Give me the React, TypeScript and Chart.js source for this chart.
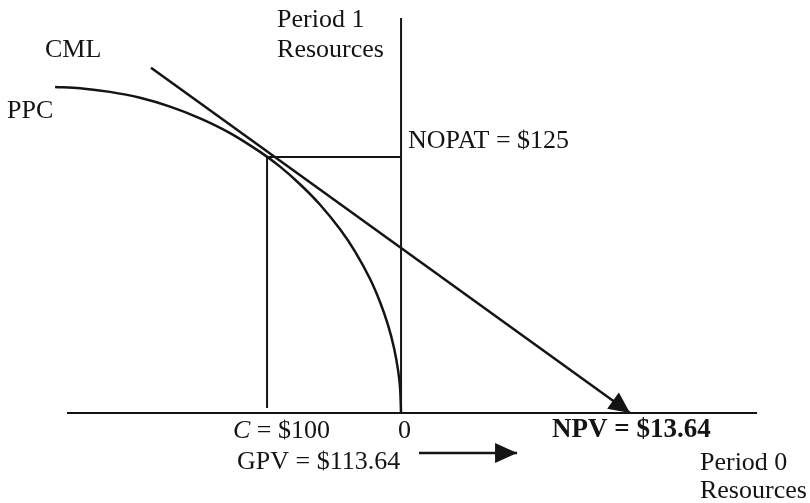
import React, { useEffect, useRef } from "react";
import { Chart, registerables } from "chart.js";

Chart.register(...registerables);

// ---- Data (diagram units: x = Period 0 resources, y = Period 1 resources) ----
const horizontalAxisX = [-249.3, 265.7];
const verticalAxisTop = 192.9;
const costC = -100; // C = $100 invested today
const nopat = 125; // NOPAT = $125 next period
const costLineBottom = 2.4;

const cmlX = [-186.6, 170.9];
const cmlY = [168.6, 0];

const ppcX = [-258.2, -239.6, -217.2, -194.8, -172.4, -150.0, -127.6, -105.2, -90.3, -75.4, -60.4, -45.5, -34.3, -23.1, -15.7, -9.7, -5.2, -2.2, -0.7, 0];
const ppcY = [159.2, 158.6, 156.8, 153.9, 149.6, 143.9, 136.7, 127.5, 120.3, 111.7, 101.7, 89.7, 78.8, 65.4, 54.2, 42.9, 31.6, 20.8, 12.0, 0];

const gpvArrowX = [13.4, 86.6];
const gpvArrowLevel = -19.5;

// ---- Labels (text parts) ----
type Part = { text: string; italic?: boolean; bold?: boolean };
const labelTexts: Part[][] = [
  [{ text: "Period 1" }],
  [{ text: "Resources" }],
  [{ text: "CML" }],
  [{ text: "PPC" }],
  [{ text: "NOPAT = $125" }],
  [{ text: "C", italic: true }, { text: " = $100" }],
  [{ text: "0" }],
  [{ text: "GPV = $113.64" }],
  [{ text: "NPV = $13.64", bold: true }],
  [{ text: "Period 0" }],
  [{ text: "Resources" }],
];
// anchors (left / baseline) in diagram units
const labelAnchorX = [-92.5, -92.5, -265.7, -294.0, 5.2, -125.4, -2.2, -122.4, 112.7, 223.1, 223.1];
const labelAnchorY = [188.5, 173.8, 173.8, 144.0, 129.4, -12.2, -12.2, -27.3, -11.7, -27.8, -41.5];

const INK = "#141414";
const FONT_FAMILY = '"Liberation Serif", "Times New Roman", serif';
const FONT_SIZE = 26;
const BOLD_FONT_SIZE = 27;

const arrowPlugin = {
  id: "arrowHeads",
  afterDatasetsDraw(chart: any) {
    const ctx = chart.ctx;
    chart.data.datasets.forEach((ds: any, i: number) => {
      if (!ds.arrowHead) return;
      const meta = chart.getDatasetMeta(i);
      const pts = meta.data;
      if (pts.length < 2) return;
      const tip = pts[pts.length - 1];
      const prev = pts[pts.length - 2];
      const dx = tip.x - prev.x;
      const dy = tip.y - prev.y;
      const len = Math.hypot(dx, dy);
      const ux = dx / len;
      const uy = dy / len;
      const L = ds.arrowLength || 21;
      const W = ds.arrowHalfWidth || 10;
      const bx = tip.x - ux * L;
      const by = tip.y - uy * L;
      ctx.save();
      ctx.fillStyle = ds.borderColor;
      ctx.beginPath();
      ctx.moveTo(tip.x, tip.y);
      ctx.lineTo(bx - uy * W, by + ux * W);
      ctx.lineTo(bx + uy * W, by - ux * W);
      ctx.closePath();
      ctx.fill();
      ctx.restore();
    });
  },
};

const labelPlugin = {
  id: "diagramLabels",
  afterDraw(chart: any) {
    const ctx = chart.ctx;
    const xs = chart.scales.x;
    const ys = chart.scales.y;
    ctx.save();
    ctx.fillStyle = INK;
    ctx.textBaseline = "alphabetic";
    ctx.textAlign = "left";
    labelTexts.forEach((parts, i) => {
      let px = xs.getPixelForValue(labelAnchorX[i]);
      const py = ys.getPixelForValue(labelAnchorY[i]);
      parts.forEach((p) => {
        const size = p.bold ? BOLD_FONT_SIZE : FONT_SIZE;
        ctx.font = `${p.italic ? "italic " : ""}${p.bold ? "bold " : ""}${size}px ${FONT_FAMILY}`;
        ctx.fillText(p.text, px, py);
        px += ctx.measureText(p.text).width;
      });
    });
    ctx.restore();
  },
};

export default function App() {
  const canvasRef = useRef<HTMLCanvasElement | null>(null);

  useEffect(() => {
    document.body.style.margin = "0";
    const canvas = canvasRef.current;
    if (!canvas) return;

    const line = (data: { x: number; y: number }[], width: number, extra: any = {}) => ({
      data,
      showLine: true,
      borderColor: INK,
      backgroundColor: INK,
      borderWidth: width,
      pointRadius: 0,
      pointHoverRadius: 0,
      fill: false,
      tension: 0,
      borderJoinStyle: "miter",
      ...extra,
    });

    const chart = new Chart(canvas, {
      type: "scatter",
      data: {
        datasets: [
          line(horizontalAxisX.map((x) => ({ x, y: 0 })), 2),
          line([{ x: 0, y: 0 }, { x: 0, y: verticalAxisTop }], 2),
          line(
            [
              { x: costC, y: costLineBottom },
              { x: costC, y: nopat },
              { x: 0, y: nopat },
            ],
            2
          ),
          line(ppcX.map((x, i) => ({ x, y: ppcY[i] })), 2.5, { tension: 0.3 }),
          line(cmlX.map((x, i) => ({ x, y: cmlY[i] })), 2.5, { arrowHead: true, arrowLength: 21, arrowHalfWidth: 10 }),
          line(gpvArrowX.map((x) => ({ x, y: gpvArrowLevel })), 2.5, { arrowHead: true, arrowLength: 22, arrowHalfWidth: 10 }),
        ],
      },
      options: {
        responsive: false,
        animation: false,
        devicePixelRatio: 1,
        layout: { padding: 0 },
        plugins: {
          legend: { display: false },
          tooltip: { enabled: false },
        },
        scales: {
          x: { type: "linear", min: -299.3, max: 305.2, display: false },
          y: { type: "linear", min: -43.95, max: 201.66, display: false },
        },
      },
      plugins: [arrowPlugin, labelPlugin],
    } as any);

    return () => chart.destroy();
  }, []);

  return (
    <div style={{ width: 810, height: 503, background: "#ffffff" }}>
      <canvas ref={canvasRef} width={810} height={503} />
    </div>
  );
}
